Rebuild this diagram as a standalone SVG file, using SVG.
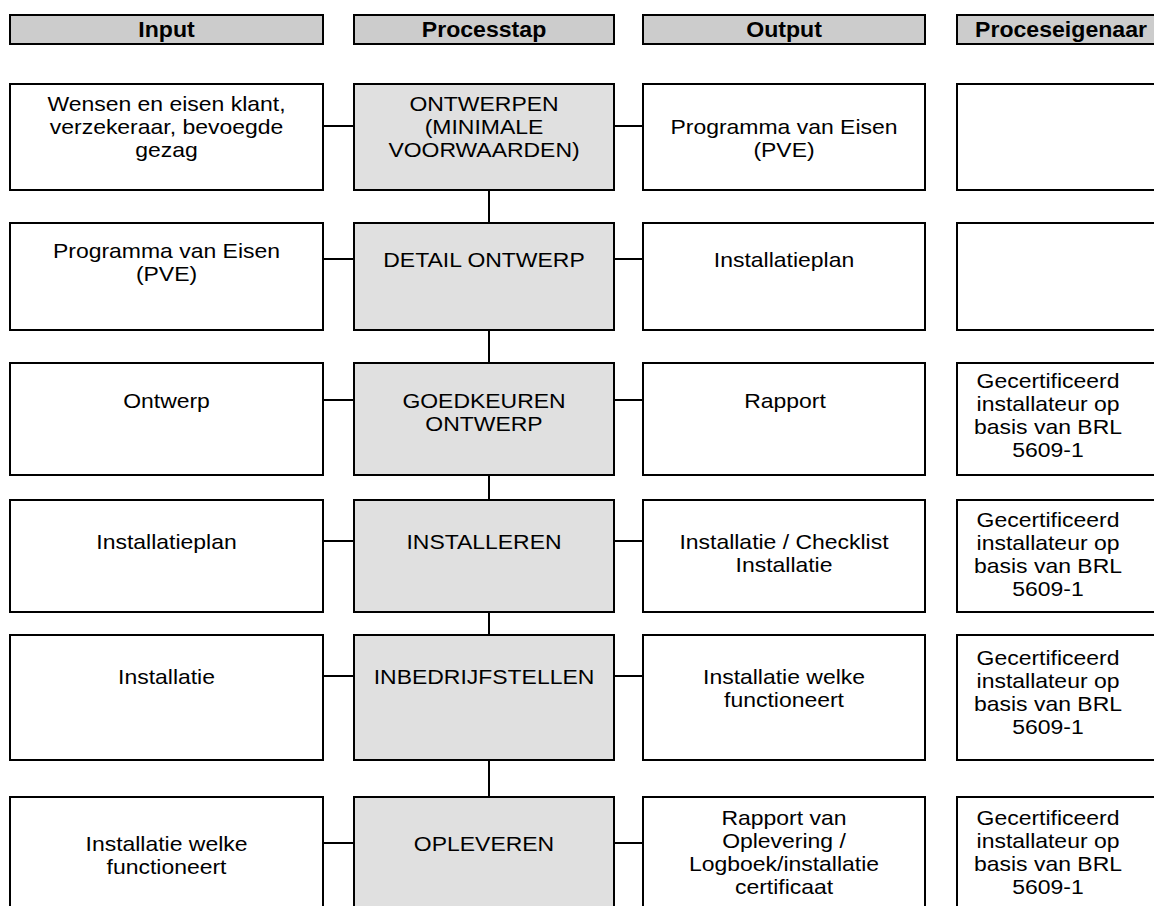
<svg xmlns="http://www.w3.org/2000/svg" width="1154" height="906" viewBox="0 0 1154 906">
<style>
.hdr{fill:#cccccc;stroke:#000;stroke-width:2}
.box{fill:#ffffff;stroke:#000;stroke-width:2}
.proc{fill:#e0e0e0;stroke:#000;stroke-width:2}
.ht{font-family:"Liberation Sans",Arial,sans-serif;font-size:22px;font-weight:bold;fill:#000;text-anchor:middle}
.t{font-family:"Liberation Sans",Arial,sans-serif;font-size:20.5px;fill:#000;text-anchor:middle}
.c{stroke:#000;stroke-width:2;fill:none}
</style>
<rect width="1154" height="906" fill="#fff"/>
<g id="headers">
<g id="h-input"><rect class="hdr" x="10" y="15" width="313" height="29"/><g transform="translate(166.5 0) scale(1.05 1)"><text class="ht" x="0" y="37.5">Input</text></g></g>
<g id="h-proc"><rect class="hdr" x="354" y="15" width="260" height="29"/><g transform="translate(484 0) scale(1.05 1)"><text class="ht" x="0" y="37.5">Processtap</text></g></g>
<g id="h-output"><rect class="hdr" x="643" y="15" width="282" height="29"/><g transform="translate(784 0) scale(1.05 1)"><text class="ht" x="0" y="37.5">Output</text></g></g>
<g id="h-owner"><rect class="hdr" x="957" y="15" width="210" height="29"/><g transform="translate(1061 0) scale(1.05 1)"><text class="ht" x="0" y="37.5">Proceseigenaar</text></g></g>
</g>
<g id="connectors">
<line class="c" x1="489" y1="190" x2="489" y2="223"/>
<line class="c" x1="489" y1="330" x2="489" y2="363"/>
<line class="c" x1="489" y1="475" x2="489" y2="500"/>
<line class="c" x1="489" y1="612" x2="489" y2="635"/>
<line class="c" x1="489" y1="760" x2="489" y2="797"/>
<line class="c" x1="323" y1="126" x2="354" y2="126"/><line class="c" x1="614" y1="126" x2="643" y2="126"/>
<line class="c" x1="323" y1="259" x2="354" y2="259"/><line class="c" x1="614" y1="259" x2="643" y2="259"/>
<line class="c" x1="323" y1="400" x2="354" y2="400"/><line class="c" x1="614" y1="400" x2="643" y2="400"/>
<line class="c" x1="323" y1="541" x2="354" y2="541"/><line class="c" x1="614" y1="541" x2="643" y2="541"/>
<line class="c" x1="323" y1="676" x2="354" y2="676"/><line class="c" x1="614" y1="676" x2="643" y2="676"/>
<line class="c" x1="323" y1="843" x2="354" y2="843"/><line class="c" x1="614" y1="843" x2="643" y2="843"/>
</g>
<g id="row1">
<g id="in1"><rect class="box" x="10" y="84" width="313" height="106"/><g transform="translate(166.5 0) scale(1.12 1)"><text class="t" x="0" y="111">Wensen en eisen klant,</text><text class="t" x="0" y="134">verzekeraar, bevoegde</text><text class="t" x="0" y="157">gezag</text></g></g>
<g id="p1"><rect class="proc" x="354" y="84" width="260" height="106"/><g transform="translate(484 0) scale(1.12 1)"><text class="t" x="0" y="111">ONTWERPEN</text><text class="t" x="0" y="134">(MINIMALE</text><text class="t" x="0" y="157">VOORWAARDEN)</text></g></g>
<g id="out1"><rect class="box" x="643" y="84" width="282" height="106"/><g transform="translate(784 0) scale(1.12 1)"><text class="t" x="0" y="134">Programma van Eisen</text><text class="t" x="0" y="157">(PVE)</text></g></g>
<g id="own1"><rect class="box" x="957" y="84" width="210" height="106"/></g>
</g>
<g id="row2">
<g id="in2"><rect class="box" x="10" y="223" width="313" height="107"/><g transform="translate(166.5 0) scale(1.12 1)"><text class="t" x="0" y="258">Programma van Eisen</text><text class="t" x="0" y="281">(PVE)</text></g></g>
<g id="p2"><rect class="proc" x="354" y="223" width="260" height="107"/><g transform="translate(484 0) scale(1.12 1)"><text class="t" x="0" y="267">DETAIL ONTWERP</text></g></g>
<g id="out2"><rect class="box" x="643" y="223" width="282" height="107"/><g transform="translate(784 0) scale(1.12 1)"><text class="t" x="0" y="267">Installatieplan</text></g></g>
<g id="own2"><rect class="box" x="957" y="223" width="210" height="107"/></g>
</g>
<g id="row3">
<g id="in3"><rect class="box" x="10" y="363" width="313" height="112"/><g transform="translate(166.5 0) scale(1.12 1)"><text class="t" x="0" y="408">Ontwerp</text></g></g>
<g id="p3"><rect class="proc" x="354" y="363" width="260" height="112"/><g transform="translate(484 0) scale(1.12 1)"><text class="t" x="0" y="408">GOEDKEUREN</text><text class="t" x="0" y="431">ONTWERP</text></g></g>
<g id="out3"><rect class="box" x="643" y="363" width="282" height="112"/><g transform="translate(785 0) scale(1.12 1)"><text class="t" x="0" y="408">Rapport</text></g></g>
<g id="own3"><rect class="box" x="957" y="363" width="210" height="112"/><g transform="translate(1048 0) scale(1.12 1)"><text class="t" x="0" y="388">Gecertificeerd</text><text class="t" x="0" y="411">installateur op</text><text class="t" x="0" y="434">basis van BRL</text><text class="t" x="0" y="457">5609-1</text></g></g>
</g>
<g id="row4">
<g id="in4"><rect class="box" x="10" y="500" width="313" height="112"/><g transform="translate(166.5 0) scale(1.12 1)"><text class="t" x="0" y="549">Installatieplan</text></g></g>
<g id="p4"><rect class="proc" x="354" y="500" width="260" height="112"/><g transform="translate(484 0) scale(1.12 1)"><text class="t" x="0" y="549">INSTALLEREN</text></g></g>
<g id="out4"><rect class="box" x="643" y="500" width="282" height="112"/><g transform="translate(784 0) scale(1.12 1)"><text class="t" x="0" y="549">Installatie / Checklist</text><text class="t" x="0" y="572">Installatie</text></g></g>
<g id="own4"><rect class="box" x="957" y="500" width="210" height="112"/><g transform="translate(1048 0) scale(1.12 1)"><text class="t" x="0" y="527">Gecertificeerd</text><text class="t" x="0" y="550">installateur op</text><text class="t" x="0" y="573">basis van BRL</text><text class="t" x="0" y="596">5609-1</text></g></g>
</g>
<g id="row5">
<g id="in5"><rect class="box" x="10" y="635" width="313" height="125"/><g transform="translate(166.5 0) scale(1.12 1)"><text class="t" x="0" y="684">Installatie</text></g></g>
<g id="p5"><rect class="proc" x="354" y="635" width="260" height="125"/><g transform="translate(484 0) scale(1.12 1)"><text class="t" x="0" y="684">INBEDRIJFSTELLEN</text></g></g>
<g id="out5"><rect class="box" x="643" y="635" width="282" height="125"/><g transform="translate(784 0) scale(1.12 1)"><text class="t" x="0" y="684">Installatie welke</text><text class="t" x="0" y="707">functioneert</text></g></g>
<g id="own5"><rect class="box" x="957" y="635" width="210" height="125"/><g transform="translate(1048 0) scale(1.12 1)"><text class="t" x="0" y="665">Gecertificeerd</text><text class="t" x="0" y="688">installateur op</text><text class="t" x="0" y="711">basis van BRL</text><text class="t" x="0" y="734">5609-1</text></g></g>
</g>
<g id="row6">
<g id="in6"><rect class="box" x="10" y="797" width="313" height="125"/><g transform="translate(166.5 0) scale(1.12 1)"><text class="t" x="0" y="851">Installatie welke</text><text class="t" x="0" y="874">functioneert</text></g></g>
<g id="p6"><rect class="proc" x="354" y="797" width="260" height="125"/><g transform="translate(484 0) scale(1.12 1)"><text class="t" x="0" y="851">OPLEVEREN</text></g></g>
<g id="out6"><rect class="box" x="643" y="797" width="282" height="125"/><g transform="translate(784 0) scale(1.12 1)"><text class="t" x="0" y="825">Rapport van</text><text class="t" x="0" y="848">Oplevering /</text><text class="t" x="0" y="871">Logboek/installatie</text><text class="t" x="0" y="894">certificaat</text></g></g>
<g id="own6"><rect class="box" x="957" y="797" width="210" height="125"/><g transform="translate(1048 0) scale(1.12 1)"><text class="t" x="0" y="825">Gecertificeerd</text><text class="t" x="0" y="848">installateur op</text><text class="t" x="0" y="871">basis van BRL</text><text class="t" x="0" y="894">5609-1</text></g></g>
</g>
</svg>
